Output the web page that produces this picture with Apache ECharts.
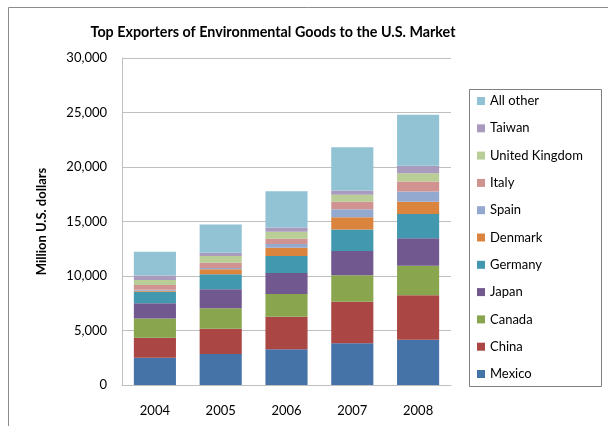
<!DOCTYPE html>
<html>
<head>
<meta charset="utf-8">
<script src="https://cdn.jsdelivr.net/npm/echarts@6/dist/echarts.min.js"></script>
<style>
  html, body { margin: 0; padding: 0; background: #fff; }
  #chart { width: 608px; height: 426px; }
</style>
</head>
<body>
<div id="chart"></div>
<script>
// Environmental goods imports by exporting country, million U.S. dollars
const years = ['2004', '2005', '2006', '2007', '2008'];

const mexico        = [2510, 2850, 3270, 3820, 4140];
const china         = [1820, 2310, 2990, 3810, 4090];
const canada        = [1760, 1890, 2100, 2440, 2710];
const japan         = [1420, 1740, 1920, 2220, 2530];
const germany       = [1040, 1370, 1550, 1980, 2220];
const denmark       = [90, 455, 760, 1120, 1130];
const spain         = [90, 120, 340, 730, 940];
const italy         = [455, 490, 485, 700, 910];
const unitedKingdom = [455, 610, 640, 640, 760];
const taiwan        = [400, 300, 400, 390, 680];
const allOther      = [2180, 2600, 3320, 3960, 4690];

const yTicks = [0, 5000, 10000, 15000, 20000, 25000, 30000];

const seriesDefs = [
  ['Mexico', mexico, '#4572A7'],
  ['China', china, '#AA4643'],
  ['Canada', canada, '#89A54E'],
  ['Japan', japan, '#71588F'],
  ['Germany', germany, '#4198AF'],
  ['Denmark', denmark, '#DB843D'],
  ['Spain', spain, '#93A9CF'],
  ['Italy', italy, '#D19392'],
  ['United Kingdom', unitedKingdom, '#B9CD96'],
  ['Taiwan', taiwan, '#A99BBD'],
  ['All other', allOther, '#92C3D4']
];

const FONT = 'Lato, "Liberation Sans", sans-serif';

const chart = echarts.init(document.getElementById('chart'), null, { renderer: 'canvas' });

chart.setOption({
  animation: false,
  backgroundColor: '#ffffff',
  textStyle: { fontFamily: FONT, color: '#000' },
  title: {
    text: 'Top Exporters of Environmental Goods to the U.S. Market',
    left: 268,
    textAlign: 'center',
    top: 20,
    textStyle: { fontFamily: FONT, fontSize: 14.3, fontWeight: 'bold', color: '#000' }
  },
  graphic: [
    {
      type: 'rect',
      shape: { x: 8.5, y: 7.5, width: 640, height: 440 },
      style: { fill: 'none', stroke: '#8c8c8c', lineWidth: 1 },
      silent: true
    },
    {
      type: 'rect',
      shape: { x: 469.5, y: 89.5, width: 132, height: 297 },
      style: { fill: '#fff', stroke: '#7f7f7f', lineWidth: 1 },
      silent: true,
      z: 0
    }
  ],
  legend: {
    orient: 'vertical',
    left: 477,
    top: 94,
    padding: 0,
    itemWidth: 8,
    itemHeight: 8,
    itemGap: 13.3,
    icon: 'rect',
    z: 10,
    textStyle: { fontFamily: FONT, fontSize: 13, color: '#000', lineHeight: 14, padding: [0, 0, 0, 0] },
    data: seriesDefs.map(d => d[0]).slice().reverse()
  },
  grid: { left: 122, top: 58, right: 157, bottom: 41, containLabel: false },
  xAxis: {
    type: 'category',
    data: years,
    axisLine: { show: true, lineStyle: { color: '#bfbfbf', width: 1 } },
    axisTick: { show: false },
    axisLabel: { color: '#000', fontSize: 13, margin: 19, fontFamily: FONT }
  },
  yAxis: {
    type: 'value',
    min: 0,
    max: 30000,
    interval: 5000,
    name: 'Million U.S. dollars',
    nameLocation: 'middle',
    nameGap: 74,
    nameRotate: 90,
    nameTextStyle: { fontFamily: FONT, fontSize: 13, fontWeight: 'bold', color: '#000' },
    axisLine: { show: true, lineStyle: { color: '#bfbfbf', width: 1 } },
    axisTick: { show: false },
    splitLine: { show: true, lineStyle: { color: '#bfbfbf', width: 1 } },
    axisLabel: {
      color: '#000',
      fontSize: 13,
      margin: 15,
      fontFamily: FONT,
      formatter: v => yTicks.includes(v) ? v.toLocaleString('en-US') : ''
    }
  },
  series: seriesDefs.map(([name, values, color]) => ({
    name,
    type: 'bar',
    stack: 'total',
    data: values,
    barCategoryGap: '36%',
    itemStyle: { color },
    emphasis: { disabled: true }
  }))
});
</script>
</body>
</html>
